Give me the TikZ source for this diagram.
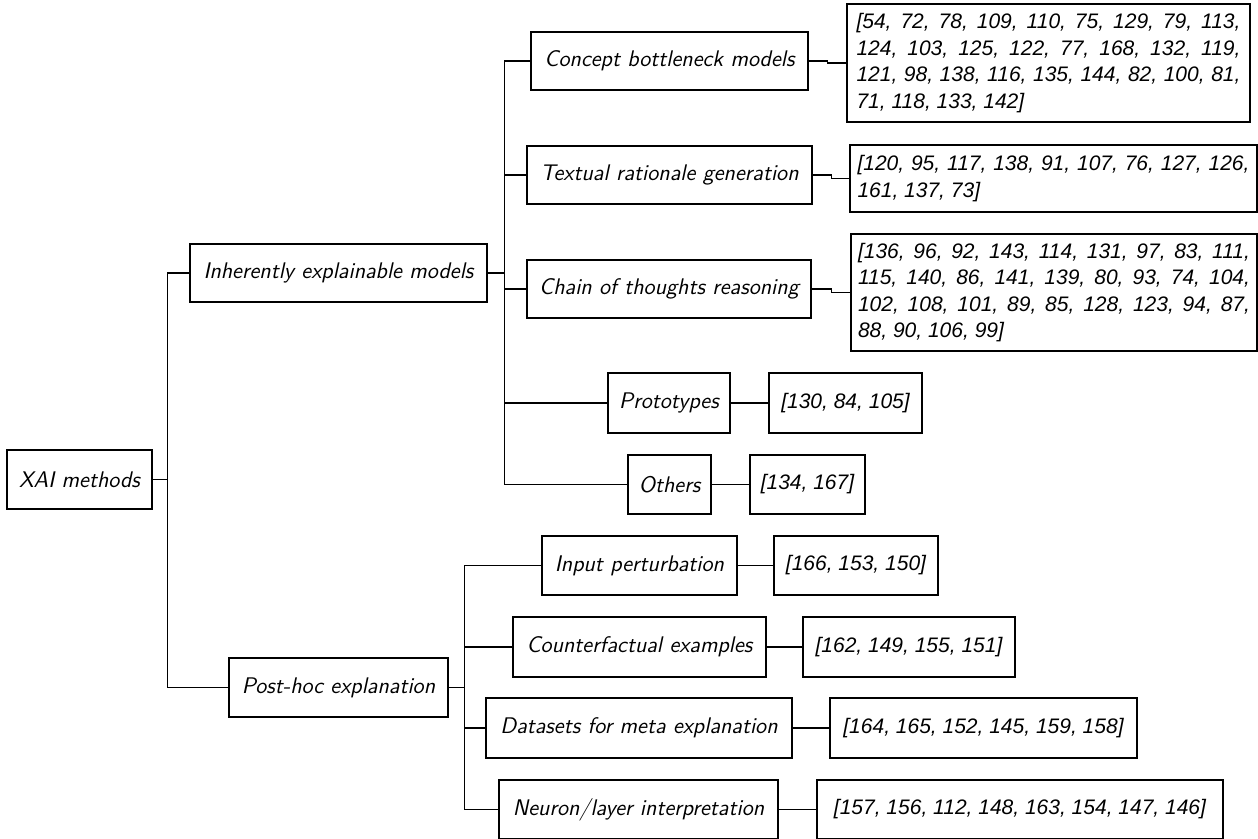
\documentclass[tikz,border=0pt]{standalone}
\usepackage{fontspec}
\newfontfamily\reffont{Liberation Sans}
\begin{document}
\begin{tikzpicture}[x=0.5pt,y=-0.5pt,
  lbl/.style={draw, line width=0.6pt, font=\sffamily\itshape\fontsize{11.3}{13.5}\selectfont, minimum height=29pt, inner sep=0pt, anchor=center},
  refbox/.style={draw, line width=0.6pt, font=\reffont\itshape\fontsize{10.5}{13.25}\selectfont, minimum height=29pt, inner sep=0pt, anchor=center},
  multiref/.style={refbox, align=justify, inner ysep=0pt},
  conn/.style={line width=0.6pt}]
\path[use as bounding box] (0,0) rectangle (1258,839);

% level 0/1
\node[lbl, minimum width=72.5pt, minimum height=29.5pt] (root) at (79.5,479.5) {XAI methods};
\node[lbl, minimum width=148.5pt] (inh) at (338.5,273) {Inherently explainable models};
\node[lbl, minimum width=109.5pt, minimum height=29.5pt] (post) at (338.5,687.5) {Post-hoc explanation};

% inherently children
\node[lbl, minimum width=138.5pt] (cbm) at (669.5,61) {Concept bottleneck models};
\node[lbl, minimum width=142.5pt] (trg) at (669.5,175) {Textual rationale generation};
\node[lbl, minimum width=142pt] (cot) at (669,289) {Chain of thoughts reasoning};
\node[lbl, minimum width=61pt, minimum height=30pt] (pro) at (669,403) {Prototypes};
\node[lbl, minimum width=41.5pt, minimum height=29.5pt] (oth) at (669.5,484.5) {Others};

% post-hoc children
\node[lbl, minimum width=97.5pt, minimum height=29.5pt] (inp) at (639.5,565.5) {Input perturbation};
\node[lbl, minimum width=126.5pt, minimum height=30pt] (cfe) at (639.5,647) {Counterfactual examples};
\node[lbl, minimum width=153pt, minimum height=30pt] (dme) at (639,728) {Datasets for meta explanation};
\node[lbl, minimum width=139.5pt, minimum height=29.5pt] (nli) at (638.5,809.5) {Neuron/layer interpretation};

% reference boxes
\node[multiref, text width=192pt, inner xsep=4.75pt, minimum height=59pt] (r1) at (1048.5,63)
 {[54, 72, 78, 109, 110, 75, 129, 79, 113,\linebreak 124, 103, 125, 122, 77, 168, 132, 119,\linebreak 121, 98, 138, 116, 135, 144, 82, 100, 81,\linebreak 71, 118, 133, 142]};
\node[multiref, text width=196pt, inner xsep=3.75pt, minimum height=33.5pt] (r2) at (1053.5,178.5)
 {[120, 95, 117, 138, 91, 107, 76, 127, 126,\linebreak 161, 137, 73]};
\node[multiref, text width=196pt, inner xsep=3.5pt, minimum height=58.5pt] (r3) at (1054,292.5)
 {[136, 96, 92, 143, 114, 131, 97, 83, 111,\linebreak 115, 140, 86, 141, 139, 80, 93, 74, 104,\linebreak 102, 108, 101, 89, 85, 128, 123, 94, 87,\linebreak 88, 90, 106, 99]};
\node[refbox, minimum width=76.5pt, minimum height=30pt] (rpro) at (845.5,403) {[130, 84, 105]};
\node[refbox, minimum width=57.5pt, minimum height=29.5pt] (roth) at (807.5,484.5) {[134, 167]};
\node[refbox, minimum width=82pt, minimum height=29.5pt] (rinp) at (856,565.5) {[166, 153, 150]};
\node[refbox, minimum width=106pt, minimum height=30pt] (rcfe) at (909,647) {[162, 149, 155, 151]};
\node[refbox, minimum width=153.5pt, minimum height=30pt] (rdme) at (983.5,728) {[164, 165, 152, 145, 159, 158]};
\node[refbox, minimum width=203pt, minimum height=29.5pt] (rnli) at (1020,809.5) {[157, 156, 112, 148, 163, 154, 147, 146]};

% connectors
\draw[conn] (root.east) -- ++(15,0) |- (inh.west);
\draw[conn] (root.east) -- ++(15,0) |- (post.west);
\foreach \c in {cbm,trg,cot,pro,oth}{
  \draw[conn] (inh.east) -- ++(17,0) |- (\c.west);
}
\foreach \c in {inp,cfe,dme,nli}{
  \draw[conn] (post.east) -- ++(16,0) |- (\c.west);
}
\draw[conn] (cbm.east) -- ++(19,0) |- (r1.west);
\draw[conn] (trg.east) -- ++(19,0) |- (r2.west);
\draw[conn] (cot.east) -- ++(20,0) |- (r3.west);
\draw[conn] (pro.east) -- (rpro.west);
\draw[conn] (oth.east) -- (roth.west);
\draw[conn] (inp.east) -- (rinp.west);
\draw[conn] (cfe.east) -- (rcfe.west);
\draw[conn] (dme.east) -- (rdme.west);
\draw[conn] (nli.east) -- (rnli.west);
\end{tikzpicture}
\end{document}
